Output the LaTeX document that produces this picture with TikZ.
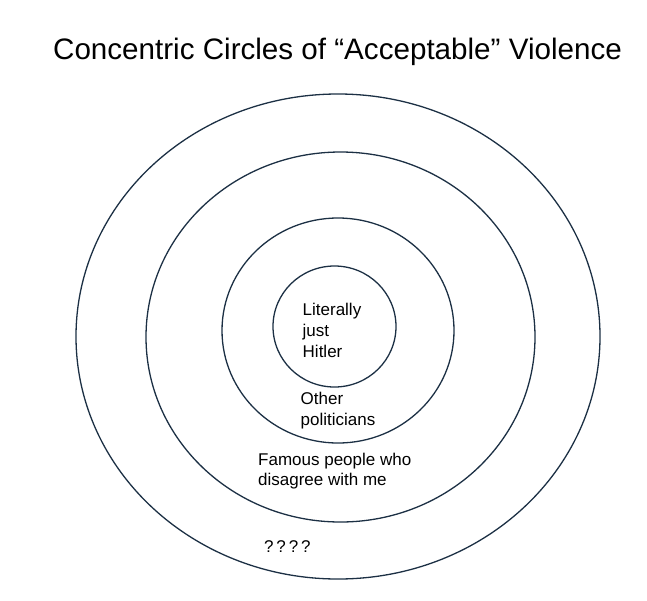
\documentclass[tikz,border=0pt]{standalone}
\usepackage{fontspec}
\setmainfont{Liberation Sans}
\definecolor{ringblue}{RGB}{28,48,68}
\begin{document}
\begin{tikzpicture}[x=1pt,y=-1pt]
    \tikzstyle{every node}+=[inner sep=0pt]
    \tikzstyle{ring}=[draw=ringblue,line width=1.3pt]
    \tikzstyle{lbl}=[anchor=north west,align=left,font=\fontsize{17}{21}\selectfont]
    \useasboundingbox (0,0) rectangle (647,600);
    \draw (337.5,59) node [anchor=base,font=\fontsize{29.6}{34}\selectfont] (title) {Concentric Circles of “Acceptable” Violence};
    \draw [ring] (338,336.5) ellipse (262 and 242.5);
    \draw [ring] (340.5,337) ellipse (194.5 and 185);
    \draw [ring] (338,330.5) ellipse (116 and 112.5);
    \draw [ring] (334.5,326.5) ellipse (61.5 and 60.5);
    \draw (302.5,303) node [lbl] (hitler) {Literally\\just\\Hitler};
    \draw (300.5,391.5) node [lbl] (politicians) {Other\\politicians};
    \draw (258,453) node [lbl,font=\fontsize{17}{20}\selectfont] (famous) {Famous people who\\disagree with me};
    \draw (264,540) node [lbl] (unknown) {?\,?\,?\,?};
\end{tikzpicture}
\end{document}
